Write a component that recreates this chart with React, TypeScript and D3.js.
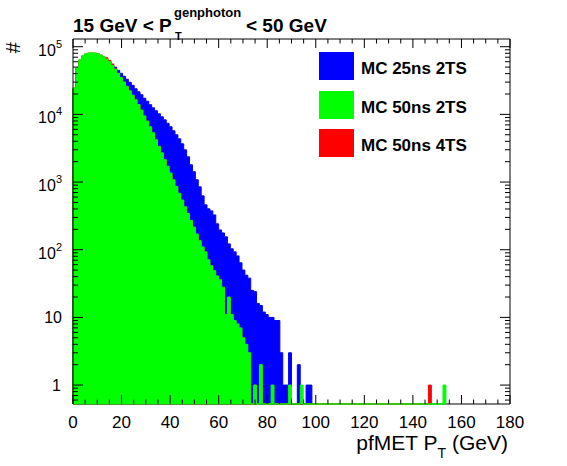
import React from 'react';
import * as d3 from 'd3';

// ---------- data ----------
const BIN_WIDTH = 1.2; // GeV per bin, bins start at 0
const X_TICK_VALUES = [0, 20, 40, 60, 80, 100, 120, 140, 160, 180];
const Y_DECADES = [0, 1, 2, 3, 4, 5];
const LEGEND_LABELS = ['MC 25ns 2TS', 'MC 50ns 2TS', 'MC 50ns 4TS'];
const SERIES_COLORS = ['#0000ff', '#00ff00', '#ff0000'];

const blue25ns2TS = [
  24000, 47500, 62800, 72000, 77000, 79000, 79500, 79000, 77500, 74000,
  70000, 65000, 60500, 53500, 49800, 44900, 40500, 36600, 33100, 29800,
  26900, 23900, 21600, 19500, 17300, 15600, 13900, 12500, 11300, 10200,
  9200, 8300, 7380, 6560, 5720, 4990, 4350, 3670, 2990, 2360,
  1800, 1420, 1080, 849, 625, 460, 402, 375, 327, 241,
  196, 177, 155, 122, 103, 93, 81, 64, 50, 42,
  38, 25, 24, 16, 15, 12, 11, 10, 10, 9,
  9, 3, 1, 1, 3, 0, 0, 2, 0, 0,
  1, 1,
];

const green50ns2TS = [
  24700, 48900, 64200, 73700, 78800, 80900, 81200, 80600, 78800, 75400,
  71100, 65800, 60000, 52800, 46400, 40500, 35000, 30100, 26000, 22300,
  19200, 16500, 14000, 11600, 9500, 7960, 6560, 5350, 4210, 3370,
  2700, 2140, 1710, 1360, 1080, 858, 681, 542, 430, 342,
  271, 216, 171, 136, 110, 93, 71, 58, 49, 41,
  36, 28, 11, 20, 11, 9, 8, 7, 5, 4,
  3, 0, 1, 0, 2, 0, 0, 0, 1, 0,
  0, 0, 0, 0, 1, 0, 0, 0, 1, 0,
  0, 0, 0, 0, 0, 0, 0, 0, 0, 0,
  0, 0, 0, 0, 0, 0, 0, 0, 0, 0,
  0, 0, 0, 0, 0, 0, 0, 0, 0, 0,
  0, 0, 0, 0, 0, 0, 0, 0, 0, 0,
  0, 0, 0, 0, 0, 0, 0, 1,
];

const red50ns4TS = [
  24200, 48000, 63300, 72800, 78000, 80200, 80700, 80200, 78600, 75300,
  71000, 68600, 62900, 55600, 47000, 40200, 34600, 29800, 25700, 22000,
  18900, 16200, 13800, 11400, 9300, 7800, 6400, 5200, 4100, 3280,
  2620, 2080, 1660, 1310, 1040, 826, 652, 519, 410, 326,
  258, 204, 162, 128, 103, 86, 66, 54, 45, 37,
  32, 25, 10, 17, 10, 8, 7, 6, 4, 3,
  2, 0, 1, 0, 1, 0, 0, 0, 0, 0,
  0, 0, 0, 0, 0, 0, 0, 0, 0, 0,
  0, 0, 0, 0, 0, 0, 0, 0, 0, 0,
  0, 0, 0, 0, 0, 0, 0, 0, 0, 0,
  0, 0, 0, 0, 0, 0, 0, 0, 0, 0,
  0, 0, 0, 0, 0, 0, 0, 0, 0, 0,
  0, 0, 1,
];

// ---------- layout ----------
const W = 567;
const H = 466;
const LEFT = 73;
const RIGHT = 510;
const TOP = 39;
const BOTTOM = 404;
const FONT = 'Liberation Sans, Arial, Helvetica, sans-serif';

export default function App() {
  const x = d3.scaleLinear().domain([0, 180]).range([LEFT, RIGHT]);
  const y = d3.scaleLog().domain([0.525, 1.3e5]).range([BOTTOM, TOP]);

  const histPath = (counts: number[]) => {
    const pts: [number, number][] = counts.map((c, i) => [i * BIN_WIDTH, c]);
    pts.push([counts.length * BIN_WIDTH, 0]);
    return (
      d3
        .area<[number, number]>()
        .x((d) => x(d[0]))
        .y0(BOTTOM)
        .y1((d) => (d[1] > 0 ? Math.max(TOP, y(d[1])) : BOTTOM))
        .curve(d3.curveStepAfter)(pts) || ''
    );
  };

  const series = [blue25ns2TS, red50ns4TS, green50ns2TS];
  const seriesColors = [SERIES_COLORS[0], SERIES_COLORS[2], SERIES_COLORS[1]];

  const minorX = d3.range(0, 181, 5).filter((v) => v % 20 !== 0);
  const minorY: number[] = [];
  for (let e = -1; e <= 5; e++) {
    for (let m = 2; m <= 9; m++) {
      const v = m * Math.pow(10, e);
      if (v >= y.domain()[0] && v <= y.domain()[1]) minorY.push(v);
    }
  }

  return (
    <svg
      width={W}
      height={H}
      style={{ position: 'absolute', left: 0, top: 0, background: '#fff' }}
      fontFamily={FONT}
    >
      <rect x={0} y={0} width={W} height={H} fill="#fff" />
      {/* bottom axis line under histograms */}
      <line x1={LEFT} x2={RIGHT} y1={BOTTOM} y2={BOTTOM} stroke="#000" />
      {series.map((s, i) => (
        <path
          key={i}
          d={histPath(s)}
          fill={seriesColors[i]}
          stroke={seriesColors[i]}
          strokeWidth={1}
        />
      ))}
      {/* frame */}
      <line x1={LEFT} x2={LEFT} y1={TOP} y2={BOTTOM} stroke="#000" />
      <line x1={RIGHT} x2={RIGHT} y1={TOP} y2={BOTTOM} stroke="#000" />
      <line x1={LEFT} x2={RIGHT} y1={TOP} y2={TOP} stroke="#000" />

      {/* x ticks */}
      {X_TICK_VALUES.map((v) => (
        <g key={'xt' + v}>
          <line x1={x(v)} x2={x(v)} y1={BOTTOM} y2={BOTTOM - 9} stroke="#000" />
          <line x1={x(v)} x2={x(v)} y1={TOP} y2={TOP + 9} stroke="#000" />
          <text x={x(v)} y={428} fontSize={17} textAnchor="middle">
            {v}
          </text>
        </g>
      ))}
      {minorX.map((v) => (
        <g key={'xm' + v}>
          <line x1={x(v)} x2={x(v)} y1={BOTTOM} y2={BOTTOM - 4.5} stroke="#000" />
          <line x1={x(v)} x2={x(v)} y1={TOP} y2={TOP + 4.5} stroke="#000" />
        </g>
      ))}

      {/* y ticks */}
      {Y_DECADES.map((e) => {
        const v = Math.pow(10, e);
        const yy = y(v);
        return (
          <g key={'yt' + e}>
            <line x1={LEFT} x2={LEFT + 10} y1={yy} y2={yy} stroke="#000" />
            <line x1={RIGHT} x2={RIGHT - 10} y1={yy} y2={yy} stroke="#000" />
            {e === 0 ? (
              <text x={61} y={yy + 6} fontSize={16} textAnchor="end">1</text>
            ) : e === 1 ? (
              <text x={62} y={yy + 6} fontSize={16} textAnchor="end">10</text>
            ) : (
              <text x={62} y={yy + 9} fontSize={16} textAnchor="end">
                10
                <tspan dy={-8} fontSize={11}>
                  {e}
                </tspan>
              </text>
            )}
          </g>
        );
      })}
      {minorY.map((v, i) => (
        <g key={'ym' + i}>
          <line x1={LEFT} x2={LEFT + 5} y1={y(v)} y2={y(v)} stroke="#000" />
          <line x1={RIGHT} x2={RIGHT - 5} y1={y(v)} y2={y(v)} stroke="#000" />
        </g>
      ))}

      {/* title */}
      <text x={73} y={32} fontSize={19} fontWeight="bold">
        15 GeV &lt; P
      </text>
      <text x={174} y={17} fontSize={13} fontWeight="bold">
        genphoton
      </text>
      <text x={175} y={40} fontSize={11} fontWeight="bold">
        T
      </text>
      <text x={246} y={32} fontSize={19} fontWeight="bold">
        &lt; 50 GeV
      </text>

      {/* y title */}
      <text
        transform="translate(20,42) rotate(-90)"
        fontSize={20}
        textAnchor="end"
      >
        #
      </text>

      {/* x title */}
      <text x={508} y={450} fontSize={21} textAnchor="end">
        pfMET P
        <tspan dy={8} fontSize={14}>
          T
        </tspan>
        <tspan dy={-8}> (GeV)</tspan>
      </text>

      {/* legend */}
      {LEGEND_LABELS.map((label, i) => {
        const colors = SERIES_COLORS;
        const y0 = [52, 91, 129][i];
        return (
          <g key={label}>
            <rect x={319} y={y0} width={35} height={28} fill={colors[i]} />
            <text x={361} y={y0 + 21.5} fontSize={17} fontWeight="bold">
              {label}
            </text>
          </g>
        );
      })}
    </svg>
  );
}
